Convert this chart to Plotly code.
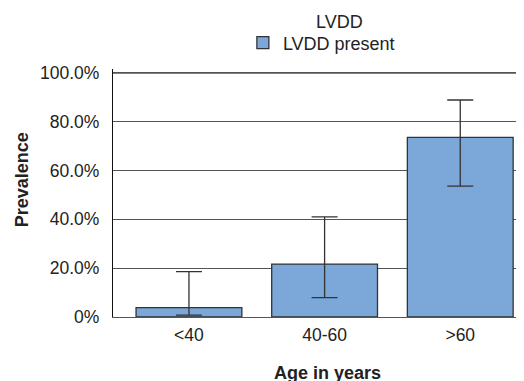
import plotly.graph_objects as go

categories = ["<40", "40-60", ">60"]
prevalence = [3.8, 21.7, 73.6]
ci_low = [0.8, 7.9, 53.6]
ci_high = [18.6, 41.0, 88.9]
y_ticks = [0, 20, 40, 60, 80, 100]
y_ticktext = ["0%", "20.0%", "40.0%", "60.0%", "80.0%", "100.0%"]

err_plus = [h - p for h, p in zip(ci_high, prevalence)]
err_minus = [p - l for l, p in zip(ci_low, prevalence)]

FONT = "Liberation Sans, Arial, sans-serif"
TXT = "#222222"
GRID = "#555555"

fig = go.Figure()
fig.add_trace(go.Bar(
    x=categories, y=prevalence, name="LVDD present", width=0.78,
    marker=dict(color="#7BA7D9", line=dict(color="#333333", width=1.3)),
    error_y=dict(type="data", symmetric=False, array=err_plus, arrayminus=err_minus,
                 color="#333333", thickness=1.3, width=13),
    showlegend=True,
))

# the page body has an 8px default margin; the figure is sized to fit beside it
fig.update_layout(
    width=516, height=373,
    margin=dict(l=105, r=0, t=61, b=64, autoexpand=False),
    paper_bgcolor="white", plot_bgcolor="white",
    font=dict(family=FONT, size=18, color=TXT),
    showlegend=True,
    legend=dict(orientation="h", x=0.507, xanchor="center", y=1.105, yanchor="middle",
                font=dict(size=18, color=TXT), bgcolor="rgba(0,0,0,0)"),
    xaxis=dict(range=[-0.56, 2.47], showgrid=False, showline=True, linecolor=GRID,
               linewidth=1.3, ticks="outside", ticklen=2, tickcolor="rgba(0,0,0,0)",
               tickfont=dict(size=17.5, color=TXT), zeroline=False),
    yaxis=dict(range=[0, 101.6], tickvals=y_ticks, ticktext=y_ticktext, showgrid=True,
               gridcolor=GRID, gridwidth=1.3, showline=True, linecolor="#111111",
               linewidth=1.3, ticks="outside", ticklen=9, tickcolor="rgba(0,0,0,0)",
               tickfont=dict(size=17.5, color=TXT), zeroline=False),
    shapes=[dict(type="line", xref="paper", x0=0, x1=1, yref="y", y0=y_ticks[-1], y1=y_ticks[-1],
                 line=dict(color=GRID, width=1.5), layer="above")],
    annotations=[
        dict(text="LVDD", x=0.552, y=1.1915, xref="paper", yref="paper", showarrow=False,
             font=dict(size=18, color=TXT), xanchor="center", yanchor="middle"),
        dict(text="<b>Age in years</b>", x=0.521, y=-0.226, xref="paper", yref="paper",
             showarrow=False, font=dict(size=18, color=TXT), xanchor="center", yanchor="middle"),
        dict(text="<b>Prevalence</b>", x=-0.221, y=0.552, xref="paper", yref="paper",
             showarrow=False, textangle=-90, font=dict(size=18, color=TXT),
             xanchor="center", yanchor="middle"),
    ],
)

fig.write_html("out.html")
